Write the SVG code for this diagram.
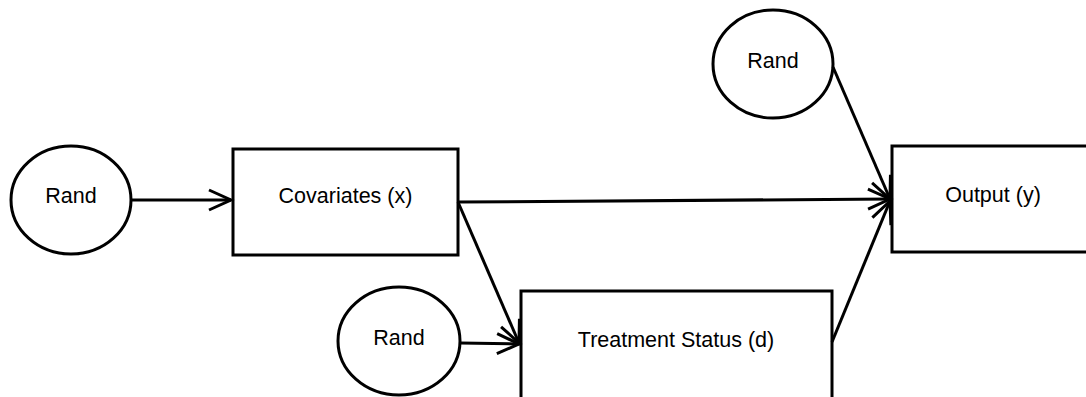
<svg xmlns="http://www.w3.org/2000/svg" width="1086" height="397" viewBox="0 0 1086 397">
<style>
.shape{fill:#fff;stroke:#000;stroke-width:3}
.lbl{font-family:"Liberation Sans",Arial,sans-serif;font-size:21.5px;fill:#000;text-anchor:middle}
.edge{fill:none;stroke:#000;stroke-width:3;marker-end:url(#arr)}
</style>
<defs>
<marker id="arr" markerUnits="userSpaceOnUse" markerWidth="40" markerHeight="40" refX="0" refY="0" viewBox="-30 -20 40 40" orient="auto" overflow="visible">
<path d="M-22,-10 L0,0 L-22,10" fill="none" stroke="#000" stroke-width="3"/>
</marker>
</defs>
<rect width="1086" height="397" fill="#fff"/>
<g id="rand1"><ellipse class="shape" cx="71" cy="200" rx="60" ry="54"/><text class="lbl" x="71" y="203">Rand</text></g>
<g id="covariates"><rect class="shape" x="233" y="149" width="225" height="106"/><text class="lbl" x="345.5" y="203">Covariates (x)</text></g>
<g id="rand2"><ellipse class="shape" cx="399" cy="341" rx="61" ry="54"/><text class="lbl" x="399" y="345">Rand</text></g>
<g id="treatment"><rect class="shape" x="521" y="291" width="311" height="120"/><text class="lbl" x="676" y="347">Treatment Status (d)</text></g>
<g id="rand3"><ellipse class="shape" cx="773" cy="64" rx="60" ry="54"/><text class="lbl" x="773" y="68">Rand</text></g>
<g id="output"><rect class="shape" x="892" y="146" width="210" height="106"/><text class="lbl" x="993" y="202">Output (y)</text></g>
<g id="connectors">
<line class="edge" x1="131" y1="200" x2="231" y2="200"/>
<line class="edge" x1="458" y1="202" x2="890" y2="199"/>
<line class="edge" x1="458" y1="202" x2="519" y2="343"/>
<line class="edge" x1="460" y1="343" x2="519" y2="344"/>
<line class="edge" x1="833" y1="67" x2="890" y2="199"/>
<line class="edge" x1="832" y1="342" x2="890" y2="201"/>
</g>
</svg>
